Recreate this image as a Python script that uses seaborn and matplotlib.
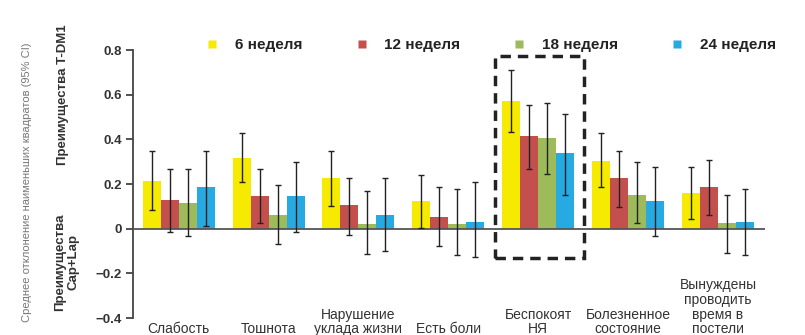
import matplotlib
matplotlib.use("Agg")
import matplotlib.pyplot as plt
from matplotlib.lines import Line2D
from matplotlib.patches import Rectangle
import numpy as np
import pandas as pd
import seaborn as sns

# --- data -------------------------------------------------------------
categories = [
    "Слабость",
    "Тошнота",
    "Нарушение\nуклада жизни",
    "Есть боли",
    "Беспокоят\nНЯ",
    "Болезненное\nсостояние",
    "Вынуждены\nпроводить\nвремя в\nпостели",
]
weeks = ["6 неделя", "12 неделя", "18 неделя", "24 неделя"]

means = {
    "6 неделя":  [0.215, 0.318, 0.225, 0.126, 0.572, 0.302, 0.162],
    "12 неделя": [0.130, 0.145, 0.104, 0.054, 0.414, 0.225, 0.185],
    "18 неделя": [0.117, 0.063, 0.022, 0.022, 0.405, 0.153, 0.027],
    "24 неделя": [0.185, 0.145, 0.063, 0.032, 0.338, 0.126, 0.032],
}
ci_low = {
    "6 неделя":  [0.085, 0.207, 0.100, 0.005, 0.432, 0.185, 0.045],
    "12 неделя": [-0.013, 0.027, -0.027, -0.077, 0.266, 0.095, 0.063],
    "18 неделя": [-0.035, -0.068, -0.113, -0.117, 0.243, 0.027, -0.108],
    "24 неделя": [0.013, -0.013, -0.099, -0.126, 0.153, -0.032, -0.117],
}
ci_high = {
    "6 неделя":  [0.347, 0.430, 0.350, 0.240, 0.710, 0.428, 0.275],
    "12 неделя": [0.266, 0.266, 0.225, 0.185, 0.554, 0.347, 0.306],
    "18 неделя": [0.266, 0.194, 0.167, 0.176, 0.563, 0.297, 0.153],
    "24 неделя": [0.350, 0.297, 0.225, 0.207, 0.514, 0.275, 0.176],
}
colors = ["#f5ea00", "#c4504e", "#9dbb5a", "#27aae1"]

y_ticks = [0.8, 0.6, 0.4, 0.2, 0.0, -0.2, -0.4]
y_tick_labels = ["0.8", "0.6", "0.4", "0.2", "0", "\u22120.2", "\u22120.4"]

# highlighted category (dashed frame)
highlight = "Беспокоят\nНЯ"
highlight_span = (-0.13, 0.775)

# --- figure -----------------------------------------------------------
sns.set_theme(style="white")
plt.rcParams["font.family"] = ["Liberation Sans", "DejaVu Sans"]

df = pd.DataFrame(
    [(c, w, means[w][i]) for w in weeks for i, c in enumerate(categories)],
    columns=["category", "week", "value"],
)

fig = plt.figure(figsize=(8.05, 3.35), dpi=100)
ax = fig.add_axes([0.165, 0.0507, 0.785, 0.8])

sns.barplot(
    data=df, x="category", y="value", hue="week",
    order=categories, hue_order=weeks, palette=colors,
    saturation=1, width=0.8, errorbar=None, legend=False,
    edgecolor="none", ax=ax,
)

# asymmetric confidence intervals, drawn at each bar's centre
for w, cont in zip(weeks, ax.containers):
    xs = [b.get_x() + b.get_width() / 2 for b in cont]
    m = np.array(means[w])
    lo = m - np.array(ci_low[w])
    hi = np.array(ci_high[w]) - m
    ax.errorbar(xs, m, yerr=[lo, hi], fmt="none", ecolor="#222222",
                elinewidth=1.0, capsize=2.5, capthick=1.0, zorder=4)

ax.set_xlim(-0.51, 6.52)
ax.set_ylim(-0.4, 0.8)
ax.set_yticks(y_ticks)
ax.set_yticklabels(y_tick_labels)
ax.set_xlabel("")
ax.set_ylabel("")

for side in ["top", "right", "bottom"]:
    ax.spines[side].set_visible(False)
ax.spines["left"].set_color("#444444")
ax.spines["left"].set_linewidth(1.3)
ax.axhline(0, color="#555555", lw=1.3, zorder=3)

ax.tick_params(axis="y", direction="out", length=5, width=1.3,
               color="#444444", labelsize=9.5, labelcolor="#333333", pad=3,
               left=True)
for t in ax.get_yticklabels():
    t.set_fontweight("bold")

ax.tick_params(axis="x", length=0, pad=13, labelsize=10, labelcolor="#333333")
for t in ax.get_xticklabels():
    t.set_va("bottom")
    t.set_linespacing(1.05)

# dashed frame around the highlighted category
hx = categories.index(highlight)
ax.add_patch(Rectangle((hx - 0.48, highlight_span[0]), 0.99,
                       highlight_span[1] - highlight_span[0],
                       fill=False, ls=(0, (3, 2)), lw=2.5, ec="#222222",
                       clip_on=False, zorder=5))

# legend
handles = [Line2D([], [], ls="none", marker="s", markersize=6,
                  markerfacecolor=c, markeredgecolor="none") for c in colors]
fig.legend(handles, weeks, loc="center left", ncol=4,
           bbox_to_anchor=(0.258, 0.866), frameon=False,
           prop={"weight": "bold", "size": 11}, handlelength=0.6,
           handletextpad=1.2, columnspacing=3.55, borderpad=0, borderaxespad=0,
           labelcolor="#222222")

# axis annotations
fig.text(0.033, 0.457, "Среднее отклонение наименьших квадратов (95% CI)",
         rotation=90, ha="center", va="center", fontsize=8, color="#777777",
         family=["Liberation Sans Narrow", "Liberation Sans"])
fig.text(0.078, 0.716, "Преимущества T-DM1", rotation=90, ha="center",
         va="center", fontsize=9.5, fontweight="bold", color="#333333")
fig.text(0.083, 0.218, "Преимущества\nCap+Lap", rotation=90, ha="center",
         va="center", fontsize=9.5, fontweight="bold", color="#333333",
         linespacing=1.1)

fig.savefig("out.png", dpi=100)
